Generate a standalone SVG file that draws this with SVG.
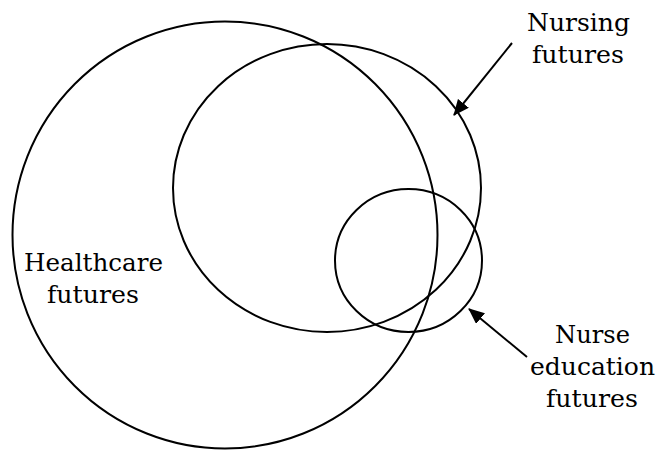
<svg xmlns="http://www.w3.org/2000/svg" width="657" height="450" viewBox="0 0 657 450">
  <defs>
    <style>
      .set { fill: none; stroke: #000; stroke-width: 2; }
      .lbl { font-family: "DejaVu Serif", "Liberation Serif", serif; font-size: 25px; fill: #000; text-anchor: middle; }
      .conn { stroke: #000; stroke-width: 2; fill: none; }
    </style>
    <marker id="arrow" markerWidth="16" markerHeight="14" refX="15" refY="7" orient="auto" markerUnits="userSpaceOnUse" viewBox="0 0 16 14">
      <path d="M0,0 L16,7 L0,14 z" fill="#000"/>
    </marker>
  </defs>
  <rect width="657" height="450" fill="#fff"/>
  <g id="healthcare">
    <ellipse class="set" cx="225" cy="235" rx="212.5" ry="213.5"/>
    <text class="lbl" x="93.5" y="271" textLength="139" lengthAdjust="spacingAndGlyphs">Healthcare</text>
    <text class="lbl" x="93" y="303" textLength="92" lengthAdjust="spacingAndGlyphs">futures</text>
  </g>
  <g id="nursing">
    <ellipse class="set" cx="327" cy="188" rx="154" ry="144"/>
    <text class="lbl" x="578.5" y="30.5" textLength="103" lengthAdjust="spacingAndGlyphs">Nursing</text>
    <text class="lbl" x="578" y="63" textLength="92" lengthAdjust="spacingAndGlyphs">futures</text>
  </g>
  <g id="nurse-education">
    <ellipse class="set" cx="408.5" cy="260.5" rx="73.5" ry="71.5"/>
    <text class="lbl" x="592.5" y="343" textLength="75" lengthAdjust="spacingAndGlyphs">Nurse</text>
    <text class="lbl" x="592.5" y="375" textLength="125" lengthAdjust="spacingAndGlyphs">education</text>
    <text class="lbl" x="592" y="407" textLength="92" lengthAdjust="spacingAndGlyphs">futures</text>
  </g>
  <g id="connectors">
    <line class="conn" x1="512" y1="43" x2="454" y2="115" marker-end="url(#arrow)"/>
    <line class="conn" x1="527" y1="357" x2="469" y2="309" marker-end="url(#arrow)"/>
  </g>
</svg>
